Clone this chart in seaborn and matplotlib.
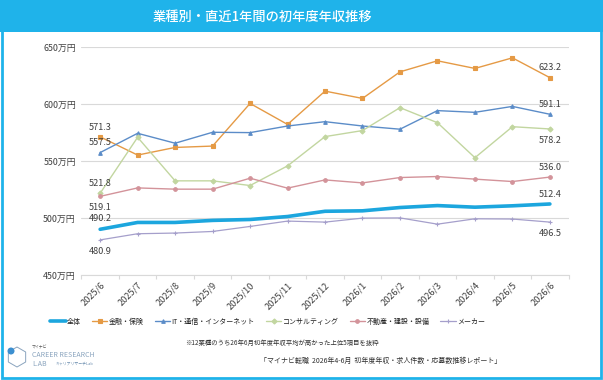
import numpy as np
import pandas as pd
import matplotlib
matplotlib.use("Agg")
import matplotlib.pyplot as plt
from matplotlib.patches import Rectangle, RegularPolygon, Ellipse
import seaborn as sns

# ================================================================
# DATA
# ================================================================
months = ["2025/6", "2025/7", "2025/8", "2025/9", "2025/10", "2025/11", "2025/12",
          "2026/1", "2026/2", "2026/3", "2026/4", "2026/5", "2026/6"]

overall = [490.2, 496.2, 496.2, 498.0, 498.8, 501.4, 506.0, 506.4, 509.3, 511.0, 509.6, 510.8, 512.4]
finance = [571.3, 555.3, 562.0, 563.2, 600.6, 582.2, 611.4, 605.0, 628.3, 638.0, 631.3, 640.6, 623.2]
it_net = [557.5, 574.4, 565.7, 575.3, 575.0, 580.8, 584.6, 580.8, 578.0, 594.3, 592.8, 598.0, 591.1]
consult = [521.8, 570.9, 532.7, 532.7, 528.6, 545.8, 571.5, 576.8, 596.9, 583.7, 553.0, 580.2, 578.2]
realty = [519.1, 526.5, 525.4, 525.4, 535.0, 526.3, 533.5, 530.9, 535.6, 536.5, 534.2, 532.1, 536.0]
maker = [480.9, 486.3, 486.9, 488.3, 492.7, 497.4, 496.5, 500.0, 500.2, 494.7, 499.4, 499.2, 496.5]

series_names = ["全体", "金融・保険", "IT・通信・インターネット", "コンサルティング", "不動産・建設・設備", "メーカー"]
series_values = [overall, finance, it_net, consult, realty, maker]

colors = ["#1CA6DE", "#E59A45", "#5B8CC8", "#C2D6A0", "#D3939A", "#A59FCB"]
markers = [None, "s", "^", "D", "o", "+"]
widths = [2.6, 1.0, 1.0, 1.0, 1.0, 0.9]

# label offsets (points) for first / last values: + above, - below
first_off = [8, 7, 7, 7, -8, -8]
last_off = [7, 7, 7, -8, 7, -8]

yticks = [450, 500, 550, 600, 650]

# ================================================================
# PLOT
# ================================================================
sns.set_style("white")
plt.rcParams["font.family"] = ["Noto Sans CJK JP", "DejaVu Sans"]

fig = plt.figure(figsize=(6.03, 3.80), dpi=100)
ax = fig.add_axes([0.135, 0.276, 0.808, 0.6])

x = np.arange(len(months))
for name, vals, c, m, lw in zip(series_names, series_values, colors, markers, widths):
    df = pd.DataFrame({"x": x, "y": vals})
    kw = dict(marker=m, markersize=2.6, markeredgecolor=c, markerfacecolor=c,
              markeredgewidth=0.8) if m else {}
    sns.lineplot(data=df, x="x", y="y", ax=ax, color=c, lw=lw, label=name, **kw)

for vals, fo, lo in zip(series_values, first_off, last_off):
    ax.annotate(f"{vals[0]:.1f}", (0, vals[0]), xytext=(0, fo), textcoords="offset points",
                ha="center", va="center", fontsize=6.6, color="#404040")
    ax.annotate(f"{vals[-1]:.1f}", (12, vals[-1]), xytext=(0, lo), textcoords="offset points",
                ha="center", va="center", fontsize=6.6, color="#404040")

ax.set_xlim(-0.5, 12.5)
ax.set_ylim(450, 650)
ax.set_yticks(yticks)
ax.set_yticklabels([f"{v}万円" for v in yticks], fontsize=6.4, color="#404040")
ax.set_xticks(x)
ax.set_xticklabels(months, rotation=45, ha="right", va="top", rotation_mode="anchor",
                   fontsize=6.6, color="#404040")
ax.set_xticks(np.arange(-0.5, 13, 1), minor=True)
ax.tick_params(axis="y", length=0, pad=4)
ax.tick_params(axis="x", which="major", length=0, pad=4)
ax.tick_params(axis="x", which="minor", length=3, color="#D9D9D9", width=0.8, bottom=True)
ax.yaxis.grid(True, color="#D9D9D9", lw=0.8)
for s in ["top", "right", "left"]:
    ax.spines[s].set_visible(False)
ax.spines["bottom"].set_color("#D9D9D9")
ax.set_xlabel("")
ax.set_ylabel("")

ax.legend(loc="center", bbox_to_anchor=(0.444, 0.153), bbox_transform=fig.transFigure,
          ncol=6, frameon=False, fontsize=5.0, handlelength=2.2, columnspacing=1.6,
          handletextpad=0.2, labelcolor="#202020")

# title banner and border
fig.patches.append(Rectangle((0, 0.915), 1, 0.085, transform=fig.transFigure,
                             facecolor="#1FB3EA", edgecolor="none", zorder=0))
fig.patches.append(Rectangle((0.004, 0.006), 0.992, 0.99, transform=fig.transFigure,
                             facecolor="none", edgecolor="#1FB3EA", lw=2.0, zorder=0))
fig.text(0.435, 0.955, "業種別・直近1年間の初年度年収推移", ha="center", va="center",
         fontsize=9.5, fontweight="medium", color="white")

fig.text(0.468, 0.097, "※12業種のうち26年6月初年度年収平均が高かった上位5項目を抜粋",
         ha="center", va="center", fontsize=4.6, color="#303030")
fig.text(0.832, 0.05, "「マイナビ転職  2026年4-6月  初年度年収・求人件数・応募数推移レポート」",
         ha="right", va="center", fontsize=5.0, color="#303030")

# logo
fig.text(0.053, 0.087, "マイナビ", fontsize=2.8, color="#555555", va="center")
fig.text(0.053, 0.065, "CAREER RESEARCH", fontsize=5.0, color="#8AA4BE", va="center")
fig.text(0.053, 0.042, "L.AB", fontsize=5.0, color="#8AA4BE", va="center")
fig.text(0.092, 0.042, "キャリアリサーチLab", fontsize=2.8, color="#6D8FB0", va="center")
hexa = RegularPolygon((17, 23), 6, radius=10, facecolor="none", edgecolor="#8AA4BE", lw=0.7,
                      transform=None)
fig.patches.append(hexa)
fig.patches.append(Ellipse((11, 29), 7, 7, transform=None, facecolor="#3C8FD0", edgecolor="none"))

fig.savefig("out.png", dpi=100)
